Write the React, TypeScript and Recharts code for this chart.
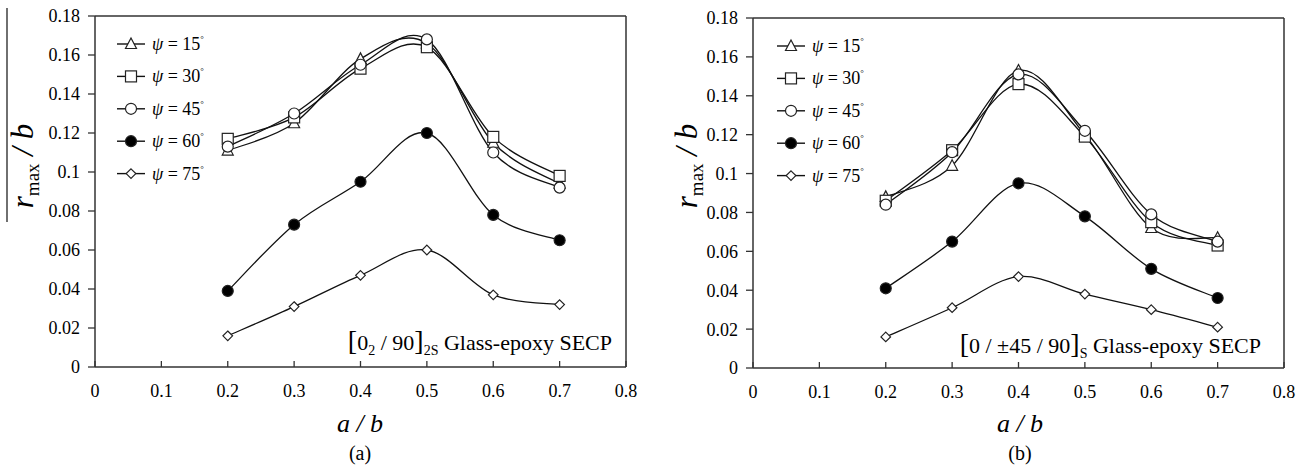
import React from "react";
import {
  LineChart,
  Line,
  XAxis,
  YAxis,
  ReferenceLine,
  Legend,
  Customized
} from "recharts";

// crack ratio a/b
const AB = [0.2, 0.3, 0.4, 0.5, 0.6, 0.7];
const X_TICKS = [0, 0.1, 0.2, 0.3, 0.4, 0.5, 0.6, 0.7, 0.8];
const Y_TICKS = [0, 0.02, 0.04, 0.06, 0.08, 0.1, 0.12, 0.14, 0.16, 0.18];
const PSI = ["15", "30", "45", "60", "75"];
const MARKERS = ["triangle", "square", "circle", "dot", "diamond"];

// (a) [0_2/90]_2S
const a15 = [0.111, 0.125, 0.158, 0.166, 0.115, 0.094];
const a30 = [0.117, 0.128, 0.153, 0.164, 0.118, 0.098];
const a45 = [0.113, 0.13, 0.155, 0.168, 0.11, 0.092];
const a60 = [0.039, 0.073, 0.095, 0.12, 0.078, 0.065];
const a75 = [0.016, 0.031, 0.047, 0.06, 0.037, 0.032];

// (b) [0/±45/90]_S
const b15 = [0.088, 0.104, 0.153, 0.12, 0.072, 0.067];
const b30 = [0.086, 0.112, 0.146, 0.119, 0.075, 0.063];
const b45 = [0.084, 0.111, 0.151, 0.122, 0.079, 0.065];
const b60 = [0.041, 0.065, 0.095, 0.078, 0.051, 0.036];
const b75 = [0.016, 0.031, 0.047, 0.038, 0.03, 0.021];

const SERIF = "Times New Roman, Liberation Serif, serif";
const AXIS = "#333";

const buildRows = (series: number[][]) =>
  AB.map((x, i) => {
    const row: Record<string, number> = { x };
    series.forEach((s, k) => (row["s" + k] = s[i]));
    return row;
  });

const dataA = buildRows([a15, a30, a45, a60, a75]);
const dataB = buildRows([b15, b30, b45, b60, b75]);

// smoothing like the spreadsheet "smoothed line" (catmull-rom via beziers)
const smooth = (ctx: any) => {
  let pts: number[][] = [];
  return {
    areaStart() {},
    areaEnd() {},
    lineStart() {
      pts = [];
    },
    point(x: number, y: number) {
      pts.push([+x, +y]);
    },
    lineEnd() {
      const n = pts.length;
      if (!n) return;
      ctx.moveTo(pts[0][0], pts[0][1]);
      for (let i = 0; i < n - 1; i++) {
        const p0 = pts[Math.max(0, i - 1)];
        const p1 = pts[i];
        const p2 = pts[i + 1];
        const p3 = pts[Math.min(n - 1, i + 2)];
        ctx.bezierCurveTo(
          p1[0] + (p2[0] - p0[0]) / 6,
          p1[1] + (p2[1] - p0[1]) / 6,
          p2[0] - (p3[0] - p1[0]) / 6,
          p2[1] - (p3[1] - p1[1]) / 6,
          p2[0],
          p2[1]
        );
      }
    }
  };
};

const Marker = ({ kind, cx, cy }: { kind: string; cx: number; cy: number }) => {
  const st = { stroke: "#222", strokeWidth: 1.2 };
  switch (kind) {
    case "triangle":
      return (
        <polygon
          points={`${cx},${cy - 6} ${cx - 5.5},${cy + 4.5} ${cx + 5.5},${cy + 4.5}`}
          fill="#fff"
          {...st}
        />
      );
    case "square":
      return <rect x={cx - 5.5} y={cy - 5.5} width={11} height={11} fill="#fff" {...st} />;
    case "circle":
      return <circle cx={cx} cy={cy} r={5.5} fill="#fff" {...st} />;
    case "dot":
      return <circle cx={cx} cy={cy} r={5.5} fill="#000" {...st} />;
    default:
      return (
        <polygon
          points={`${cx},${cy - 4.8} ${cx + 4.8},${cy} ${cx},${cy + 4.8} ${cx - 4.8},${cy}`}
          fill="#fff"
          {...st}
        />
      );
  }
};

const LegendBox = () => (
  <svg width={130} height={170} style={{ fontFamily: SERIF }}>
    {PSI.map((p, i) => {
      const y = 18 + i * 32.4;
      return (
        <g key={p}>
          <line x1={7} x2={35} y1={y} y2={y} stroke="#111" strokeWidth={1.4} />
          <Marker kind={MARKERS[i]} cx={21} cy={y} />
          <text x={42} y={y + 6} style={{ fontFamily: SERIF }} fontSize={18} fill="#000">
            <tspan fontStyle="italic">ψ</tspan>
            <tspan> = {p}</tspan>
            <tspan fontSize={9} dy={-8}>°</tspan>
          </text>
        </g>
      );
    })}
  </svg>
);

const XTick = (props: any) => {
  const { x, y, payload } = props;
  const axisY = y - 16;
  return (
    <g>
      <line x1={x} x2={x} y1={axisY} y2={axisY - 6} stroke={AXIS} strokeWidth={1.3} />
      <text
        x={x}
        y={y}
        dy="0.75em"
        textAnchor="middle"
        style={{ fontFamily: SERIF }}
        fontSize={18}
        fill="#000"
      >
        {String(payload.value)}
      </text>
    </g>
  );
};

const fmtY = (v: number) => String(Number(v.toFixed(2)));

const Extras = ({ panel, overbar }: { panel: string; overbar: boolean }) => {
  const yl = { x: panel === "a" ? 33 : 37, y: 166 };
  return (
    <g style={{ fontFamily: SERIF }} fill="#000">
      {overbar && <line x1={7} x2={7} y1={8} y2={222} stroke="#222" strokeWidth={1.3} />}
      <text transform={`rotate(-90, ${yl.x}, ${yl.y})`} x={yl.x} y={yl.y} textAnchor="middle">
        <tspan fontStyle="italic" fontSize={31}>r</tspan>
        <tspan fontSize={19} dy={6}>max</tspan>
        <tspan fontStyle="italic" fontSize={31} dy={-6}> / b</tspan>
      </text>
      <text x={360} y={432} textAnchor="middle" fontStyle="italic" fontSize={26}>
        a / b
      </text>
      <text x={360} y={460} textAnchor="middle" fontSize={20}>
        ({panel})
      </text>
      {panel === "a" ? (
        <text x={612} y={350} textAnchor="end" fontSize={22}>
          <tspan fontSize={28}>[</tspan>
          <tspan>0</tspan>
          <tspan fontSize={14} dy={5}>2</tspan>
          <tspan dy={-5}> / 90</tspan>
          <tspan fontSize={28}>]</tspan>
          <tspan fontSize={14} dy={5}>2S</tspan>
          <tspan dy={-5}> Glass-epoxy SECP</tspan>
        </text>
      ) : (
        <text x={601} y={353} textAnchor="end" fontSize={22}>
          <tspan fontSize={28}>[</tspan>
          <tspan>0 / ±45 / 90</tspan>
          <tspan fontSize={28}>]</tspan>
          <tspan fontSize={14} dy={5}>S</tspan>
          <tspan dy={-5}> Glass-epoxy SECP</tspan>
        </text>
      )}
    </g>
  );
};

const Panel = ({
  data,
  panel,
  margin,
  yWidth
}: {
  data: any[];
  panel: string;
  margin: { top: number; right: number; bottom: number; left: number };
  yWidth: number;
}) => (
  <LineChart width={640} height={469} data={data} margin={margin} style={{ fontFamily: SERIF }}>
    <XAxis
      dataKey="x"
      type="number"
      domain={[0, 0.8]}
      ticks={X_TICKS}
      interval={0}
      height={30}
      tickSize={8}
      tickMargin={8}
      tickLine={false}
      tick={<XTick />}
      axisLine={{ stroke: AXIS, strokeWidth: 1.5 }}
    />
    <YAxis
      type="number"
      domain={[0, 0.18]}
      ticks={Y_TICKS}
      interval={0}
      width={yWidth}
      tickSize={7}
      tickMargin={8}
      tickFormatter={fmtY}
      tick={{ fill: "#000", fontSize: 18, style: { fontFamily: SERIF } }}
      tickLine={{ stroke: AXIS, strokeWidth: 1.3 }}
      axisLine={{ stroke: AXIS, strokeWidth: 1.5 }}
    />
    <ReferenceLine y={0.18} stroke={AXIS} strokeWidth={1.5} />
    <ReferenceLine x={0.8} stroke={AXIS} strokeWidth={1.5} />
    <Legend
      layout="vertical"
      align="center"
      verticalAlign="middle"
      content={() => <LegendBox />}
      wrapperStyle={{ left: 110, top: margin.top + 10, width: 130, height: 170 }}
    />
    {PSI.map((p, k) => (
      <Line
        key={p}
        dataKey={"s" + k}
        name={`ψ = ${p}°`}
        type={smooth as any}
        stroke="#111"
        strokeWidth={1.3}
        isAnimationActive={false}
        dot={(d: any) => (
          <Marker key={`${p}-${d.index}`} kind={MARKERS[k]} cx={d.cx} cy={d.cy} />
        )}
        activeDot={false}
      />
    ))}
    <Customized component={<Extras panel={panel} overbar={panel === "a"} />} />
  </LineChart>
);

export default function App() {
  return (
    <div
      style={{
        position: "absolute",
        left: 0,
        top: 0,
        width: 1307,
        height: 469,
        background: "#fff",
        overflow: "hidden",
        fontFamily: SERIF
      }}
    >
      <div style={{ position: "absolute", left: 0, top: 0 }}>
        <Panel data={dataA} panel="a" margin={{ top: 16, right: 14, bottom: 72, left: 0 }} yWidth={95} />
      </div>
      <div style={{ position: "absolute", left: 660, top: 0 }}>
        <Panel data={dataB} panel="b" margin={{ top: 18, right: 16, bottom: 71, left: 0 }} yWidth={93} />
      </div>
    </div>
  );
}
